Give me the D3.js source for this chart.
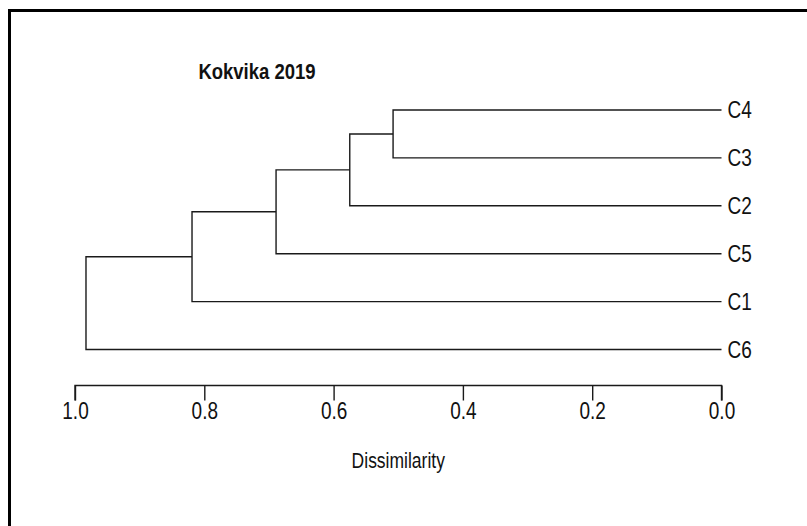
<!DOCTYPE html>
<html>
<head>
<meta charset="utf-8">
<script src="https://cdn.jsdelivr.net/npm/d3@7"></script>
<style>
  html, body { margin: 0; padding: 0; background: #fff; }
  svg { display: block; }
  text { font-family: "Liberation Sans", Arial, sans-serif; fill: #111; }
</style>
</head>
<body>
<svg id="chart" width="807" height="526"></svg>
<script>
// ---- data ----
const title = "Kokvika 2019";
const axisLabel = "Dissimilarity";
const leaves = ["C4", "C3", "C2", "C5", "C1", "C6"];
// merges: negative = leaf index (1-based), positive = previous merge (1-based)
const mergeLeft  = [-1, 1, 2, 3, 4];
const mergeRight = [-2, -3, -4, -5, -6];
const mergeHeight = [0.508, 0.575, 0.689, 0.819, 0.983];
const tickValues = [1.0, 0.8, 0.6, 0.4, 0.2, 0.0];

// ---- drawing ----
const svg = d3.select("#chart");
const STRETCH = 1.22;

svg.append("rect")
  .attr("x", 9.5).attr("y", 10.5)
  .attr("width", 900).attr("height", 700)
  .attr("fill", "none").attr("stroke", "#000").attr("stroke-width", 3);

const x = d3.scaleLinear().domain([1, 0]).range([75, 721.5]);
const y = d3.scalePoint().domain(leaves).range([110, 349.5]);

function stretchedText(sel, tx, ty) {
  return sel.attr("transform", `translate(${tx},${ty}) scale(1,${STRETCH})`);
}

const nodes = [];
function pos(ref) {
  if (ref < 0) { const name = leaves[-ref - 1]; return { x: x(0), y: y(name) }; }
  return nodes[ref - 1];
}
const g = svg.append("g")
  .attr("fill", "none").attr("stroke", "#1a1a1a").attr("stroke-width", 1.4);

for (let i = 0; i < mergeHeight.length; i++) {
  const a = pos(mergeLeft[i]), b = pos(mergeRight[i]);
  const hx = x(mergeHeight[i]);
  g.append("path").attr("d", `M${a.x},${a.y}H${hx}V${b.y}H${b.x}`);
  nodes.push({ x: hx, y: (a.y + b.y) / 2 });
}

// leaf labels
svg.append("g").selectAll("text").data(leaves).join("text")
  .each(function (d) { stretchedText(d3.select(this), x(0) + 6, y(d)); })
  .attr("dy", "0.36em")
  .attr("font-size", 19)
  .text(d => d);

// axis
const axis = d3.axisBottom(x).tickValues(tickValues).tickSize(15).tickSizeOuter(0)
  .tickFormat(d3.format(".1f"));
const ag = svg.append("g").attr("transform", "translate(0,385.5)").call(axis);
ag.select(".domain").attr("stroke", "#1a1a1a").attr("stroke-width", 1.4)
  .attr("d", `M${x(1)},15V0H${x(0)}V15`);
ag.selectAll(".tick line").attr("stroke", "#1a1a1a").attr("stroke-width", 1.4);
ag.selectAll(".tick text")
  .attr("y", null).attr("dy", "0.36em")
  .attr("transform", `translate(0,25) scale(1,${STRETCH})`)
  .attr("font-size", 19).attr("fill", "#111")
  .attr("font-family", "Liberation Sans, Arial, sans-serif");

// title
stretchedText(svg.append("text"), 257, 79)
  .attr("text-anchor", "middle").attr("font-size", 18.5).attr("font-weight", "bold")
  .text(title);

// axis label
stretchedText(svg.append("text"), (x(1) + x(0)) / 2, 468)
  .attr("text-anchor", "middle").attr("font-size", 17.5)
  .text(axisLabel);
</script>
</body>
</html>
